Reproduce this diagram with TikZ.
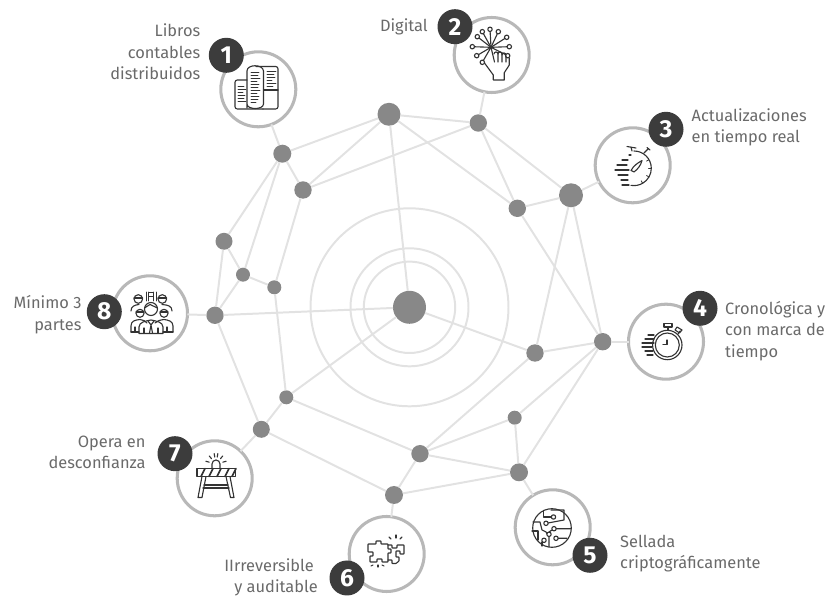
\documentclass[tikz,border=0pt]{standalone}
\usepackage{fontspec}
\setmainfont{Fira Sans}
\definecolor{dotgray}{HTML}{888888}
\definecolor{wiregray}{HTML}{E2E2E2}
\definecolor{ringgray}{HTML}{B8B8B8}
\definecolor{badgedark}{HTML}{3C3C3C}
\definecolor{textgray}{HTML}{6A6A6A}
\definecolor{icondark}{HTML}{333333}
\tikzset{
  dot/.style={circle,fill=dotgray,inner sep=0pt,outer sep=0pt},
  wire/.style={draw=wiregray,line width=1.7pt},
  iconring/.style={circle,draw=ringgray,fill=white,line width=2.6pt,inner sep=0pt,outer sep=0pt,minimum size=2.25cm},
  badge/.style={circle,fill=badgedark,text=white,inner sep=0pt,minimum size=1.05cm,font=\fontsize{21}{21}\selectfont\bfseries},
  lbl/.style={text=textgray,inner sep=0pt,font=\fontsize{14}{18.5}\selectfont},
  ico/.style={draw=icondark,line width=0.95pt,line cap=round,line join=round},
  thin ico/.style={draw=icondark,line width=0.7pt,line cap=round}
}
\begin{document}
\begin{tikzpicture}[x=0.03cm,y=-0.03cm]
\useasboundingbox (0,0) rectangle (826,598);

\foreach \n/\x/\y/\r in {hub/409.5/307.3/33,a/389/114.3/23,b/478.3/123/17.4,c/282.3/153.7/18,d/303/190/17.4,e/571/195.3/24,f/517.3/208.3/17.4,g/224/241.3/17,h/243/274.7/14,i/274.3/287.3/14,j/215/315.3/17.4,k/535/353/17.4,l/602.7/341.7/17.4,m/286.3/397.3/14,n/261.3/429.3/17,o/514.7/417.7/14,p/420/453.7/17.4,q/519/472.3/18,r/394/495/18}
  \node[dot,minimum size=\r*0.03cm] (\n) at (\x,\y) {};

\foreach \n/\x/\y in {icon1/258.3/89.3,icon2/491.7/55,icon3/632.7/165.3,icon4/666/341.7,icon5/552.7/527.3,icon6/386.7/554,icon7/214.7/478.3,icon8/150/313.3}
  \node[iconring] (\n) at (\x,\y) {};

\foreach \s in {45.7,59,99}
  \draw[wire] (hub) circle (\s);

\foreach \p/\q in {a/hub,a/c,a/d,a/b,a/f,b/d,b/f,b/e,c/d,c/g,c/h,d/i,g/h,g/j,h/i,h/j,j/hub,i/m,m/hub,m/n,m/p,n/j,n/r,hub/k,f/e,f/l,e/k,e/l,k/l,k/p,l/o,l/q,o/p,o/q,p/q,p/r,q/r,c/icon1,b/icon2,e/icon3,l/icon4,q/icon5,r/icon6,n/icon7,j/icon8}
  \draw[wire] (\p) -- (\q);

\foreach \n/\x/\y in {1/226.3/55.3,2/455/26.7,3/666/129.3,4/700/308.3,5/590/555.3,6/347/578,7/175/453.7,8/104.3/311.7}
  \node[badge] (badge\n) at (\x,\y) {\n};

\node[lbl,align=right,anchor=east] (txt1) at (200.5,52) {Libros\\contables\hspace*{3.4pt}\\distribuidos};
\node[lbl,anchor=east] (txt2) at (428,27) {Digital};
\node[lbl,align=left,anchor=west] (txt3) at (691.5,127.5) {Actualizaciones\\en tiempo real};
\node[lbl,align=left,anchor=west] (txt4) at (725,331) {Cronológica y\\con marca de\\tiempo};
\node[lbl,align=left,anchor=west] (txt5) at (620,553.5) {Sellada\\criptográficamente};
\node[lbl,align=right,anchor=east] (txt6) at (318,577.5) {IIrreversible\hspace*{3.4pt}\\y auditable};
\node[lbl,align=right,anchor=east] (txt7) at (145.7,452.5) {Opera en\\desconfianza};
\node[lbl,align=right,anchor=east] (txt8) at (81.7,315) {Mínimo 3\\partes};

% libros
\draw[ico,rounded corners=2] (247,80) -- (235,80) -- (235,109) -- (263,109);
\draw[ico] (247,108) -- (247,71) .. controls (247,64) and (263,64) .. (263.5,71) -- (263.5,104) .. controls (263.5,110) and (247,110) .. (247,104);
\draw[ico,rounded corners=2] (256,66.5) -- (278,66.5) -- (278,109) -- (263,109);
\draw[ico] (263.5,90) -- (278,90);
\foreach \y/\w in {72/8,75/7,78/9,81/6,84/8,87/7,90/9,93/6,96/8,99/7,102/5}
  \draw[thin ico] (251,\y) -- ++(\w,0);
\foreach \y/\w in {71/9,74/7,77/8,80/5,83/9,86/6}
  \draw[thin ico] (267,\y) -- ++(\w,0);
\foreach \y/\w in {86/6,89/8,92/5,95/7,98/6,101/8}
  \draw[thin ico] (238,\y) -- ++(\w,0);

% digital
\foreach \x/\y in {490/29.3,482.3/31.7,498.3/31.7,477.3/36.7,506.7/37.3,472.3/46.7,509.3/46.7,476.7/55.7,507.7/55.7,482.3/62.3} {
  \draw[ico] (\x,\y) circle (2.2);
  \draw[ico,shorten >=1.9pt] (491,47.3) -- (\x,\y);
}
\draw[ico] (484.5,63) -- (493.3,75) -- (493.3,80) -- (504.3,80) -- (504.3,72.7) -- (509.3,65) -- (509.3,58);
\draw[ico] (491,47.3) -- (494.5,62) (498,54) -- (498,62) (502,54) -- (502,62) (506,56) -- (506,62);
\draw[ico] (494,54) arc (180:360:2) (498,54) arc (180:360:2) (502,55) arc (180:360:2);

% tiempo real
\draw[ico] (634,151) arc (-90:100:17.3);
\draw[ico] (632,151) -- (631,147) (627,146.5) -- (636,148);
\draw[ico] (644,153) -- (648,149) (647,147.5) -- (650,150);
\draw[ico] (631,170.5) .. controls (634,165) and (638,163) .. (642,160.5) .. controls (641,165) and (638,169) .. (634,172) -- cycle;
\foreach \y/\x/\w in {155/629/2,160/622/6,165/617/10,170/615/14,175/618/10,180/621/7,185/622/7}
  \draw[ico] (\x,\y) -- ++(\w,0);
\foreach \a in {-30,0,30,60} \draw[thin ico] (634,168.3) ++(\a:17) -- ++(\a:-2.5);

% marca de tiempo
\draw[ico] (667.3,345) circle (14.7);
\draw[ico] (667.3,345) circle (12);
\draw[ico] (667,344.5) -- (667,340) (667,344.5) -- (663,344.5);
\draw[ico] (668,330) -- (668,327) (664,323.5) rectangle (672,327);
\draw[ico] (678,334) -- (680,331) (677,327) -- (682,330) -- (679.5,333) -- (675,330) -- cycle;
\foreach \y/\x/\w in {335/648/6,339/645/9,343/642/12,347/642/10,351/645/8,355/647/6}
  \draw[ico] (\x,\y) -- ++(\w,0);

% sellada
\draw[ico] (552,528) circle (19.3);
\draw[ico] (551.5,517) -- (543.5,517) -- (543.5,510.5);
\draw[ico] (553.5,517) circle (2.2);
\draw[ico] (551,510) -- (564,510) -- (564,520) -- (548,523);
\draw[ico] (546,523.3) circle (2.2);
\draw[ico] (533,522) -- (540,522) -- (542,530) -- (546,532) -- (547,534);
\draw[ico] (554,528.7) circle (2.2) (556,528.7) -- (571,528.7);
\draw[ico] (549,534.3) circle (2.2) (549,536.5) -- (549,546.5);
\draw[ico] (544,540.3) circle (2.2);
\draw[ico] (532,531) -- (538,531) -- (538,540) (542,542) -- (542,546);
\draw[ico] (556,538.3) circle (2.2) (558,538.3) -- (567,538.3);
\draw[ico] (552,530) -- (549,532);

% auditable
\draw[ico,rounded corners=0.4pt] (368,544) -- (376,544) -- (376,541) -- (381,541) -- (381,544) -- (388,544) -- (388,549) -- (391,549) -- (391,553) -- (388,553) -- (388,562) -- (382,562) -- (382,559) -- (377,559) -- (377,562) -- (370,562) -- (370,556) -- (373,556) -- (373,552) -- (368,552) -- cycle;
\draw[ico,rounded corners=0.4pt] (388,545) -- (392,545) -- (392,548) -- (397,548) -- (397,545) -- (404,545) -- (404,554) -- (400,554) -- (400,551) -- (396,551) -- (396,557) -- (399,557) -- (399,561) -- (396,563.5) -- (392,563.5) -- (392,560) -- (388,560);
\foreach \x/\y/\u/\v in {389/537/2/2,396/535/0/3,402/537/-2/2,371/566/2/-1,378/567/0/-2,384/566/-2/-1}
  \draw[ico] (\x,\y) -- ++(\u,\v);

% desconfianza
\draw[ico] (197,468.5) rectangle (235.5,476.5);
\foreach \x in {201,209,217,225,232}
  \draw[ico,line width=1.4pt] (\x,476.5) -- ++(4,-8);
\draw[ico] (212,468.5) -- (212,464) arc (180:360:4) -- (220,468.5);
\draw[ico] (202,476.5) -- (198,497.5) -- (202,497.5) -- (206,476.5);
\draw[ico] (230,476.5) -- (234,497.5) -- (230.5,497.5) -- (226,476.5);
\draw[ico] (204,485) -- (228,485) (203,488) -- (229,488);
\foreach \a in {-165,-130,-100,-80,-50,-15}
  \draw[ico] (216,464) ++(\a:7) -- ++(\a:3.5);

% partes
\foreach \x/\y in {138.3/299,162.3/299} {
  \draw[ico] (\x,\y) circle (4.3);
  \draw[ico] (\x-4.3,\y-1) -- (\x+4.3,\y-1);
}
\draw[ico] (131,311) .. controls (131,306) and (135,305) .. (139,304.5);
\draw[ico] (172,311) .. controls (172,306) and (168,305) .. (162,304.5);
\foreach \x in {146,148.5,153.5,156}
  \draw[thin ico] (\x,292) -- (\x,301);
\draw[thin ico] (149,292) -- (153,292) (149,296) -- (153,296);
\draw[ico,fill=white] (151,309) circle (6.5);
\draw[ico] (144.5,308) -- (150,304.5) -- (157.5,308);
\foreach \x in {140,164} {
  \draw[ico] (\x,313.3) circle (4);
  \draw[ico] (\x-4,312) -- (\x+4,312);
}
\draw[ico] (131,332) -- (131,326) .. controls (131,321) and (135,320) .. (140,319.5) .. controls (143,320) and (146,321) .. (147,323);
\draw[ico] (173,332) -- (173,326) .. controls (173,321) and (168,320) .. (164,319.5) .. controls (160,320) and (157,321) .. (155,323);
\draw[ico] (139,333.5) -- (139,327) .. controls (139,322) and (146,321) .. (151,320) .. controls (156,321) and (163,322) .. (163,327) -- (163,333.5) -- cycle;
\draw[ico] (131,332) -- (139,332) (163,332) -- (173,332);
\draw[ico] (148,321) -- (151,325) -- (154,321) (151,325) -- (149.5,333) (151,325) -- (152.5,333);
\draw[ico] (135,327) -- (135,332) (167,327) -- (167,332) (144,328) -- (144,333) (158,328) -- (158,333);
\end{tikzpicture}
\end{document}
